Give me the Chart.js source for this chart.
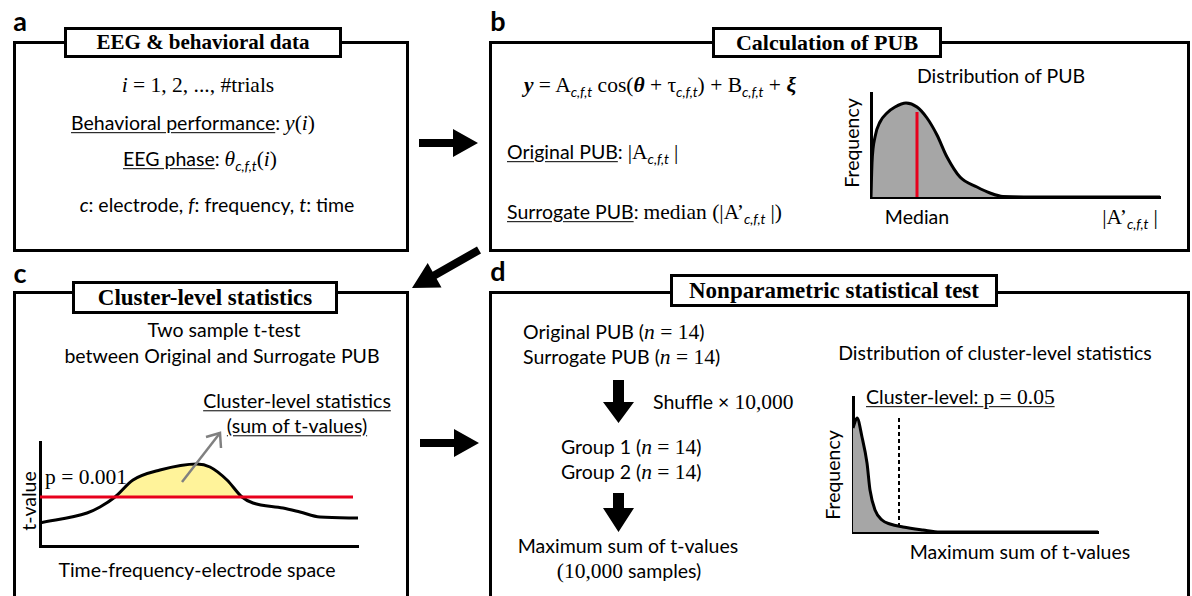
<!DOCTYPE html>
<html>
<head>
  <script src="https://cdn.jsdelivr.net/npm/chart.js"></script>
  <title>PUB analysis pipeline</title>
  <style>
    body { margin:0; background:#fff; }
    #page { position:relative; width:1192px; height:596px; overflow:hidden; font-family:Lato, sans-serif; font-size:19.5px; color:#000; }
    .box { position:absolute; border:3px solid #000; box-sizing:border-box; }
    .ttl { position:absolute; border:3px solid #000; box-sizing:border-box; background:#fff; font-family:'Liberation Serif', serif; font-weight:bold; font-size:22px; display:flex; align-items:center; justify-content:center; }
    .t { position:absolute; white-space:nowrap; line-height:1.1; }
    .c { transform:translate(-50%,-50%); }
    .l { transform:translate(0,-50%); }
    .r { transform:translate(-50%,-50%) rotate(-90deg); }
    .s { font-family:'Liberation Serif', serif; font-size:21.5px; }
    .u { text-decoration:underline; text-underline-offset:2px; }
    sub { font-family:Lato, sans-serif; font-size:14px; font-style:italic; vertical-align:-5px; line-height:0; }
    .lab { position:absolute; font-weight:bold; font-size:27px; line-height:1; transform:translate(-50%,-50%); }
    .cw { position:absolute; }
    svg { position:absolute; left:0; top:0; }
  </style>
</head>
<body>
<div id="page">
  <!-- panel a -->
  <div class="lab" style="left:20px;top:20px">a</div>
  <div class="box" style="left:13px;top:41px;width:396px;height:211px"></div>
  <div class="ttl" style="left:64px;top:27px;width:278px;height:31px;font-size:21px">EEG &amp; behavioral data</div>
  <div class="t c s" style="left:198px;top:86px"><i>i</i> = 1, 2, ..., #trials</div>
  <div class="t c" style="left:193px;top:124px"><span class="u">Behavioral performance</span>: <span class="s"><i>y</i>(<i>i</i>)</span></div>
  <div class="t c" style="left:200px;top:160px"><span class="u">EEG phase</span>: <span class="s"><i>θ</i></span><sub>c,f,t</sub><span class="s">(<i>i</i>)</span></div>
  <div class="t c" style="left:217px;top:205px"><i>c</i>: electrode, <i>f</i>: frequency, <i>t</i>: time</div>

  <!-- panel b -->
  <div class="lab" style="left:498px;top:20px">b</div>
  <div class="box" style="left:489px;top:41px;width:701px;height:211px"></div>
  <div class="ttl" style="left:712px;top:27px;width:230px;height:31px">Calculation of PUB</div>
  <div class="t c s" style="left:660px;top:86px"><b><i>y</i></b> = A<sub>c,f,t</sub> cos(<b><i>θ</i></b> + τ<sub>c,f,t</sub>) + B<sub>c,f,t</sub> + <b><i>ξ</i></b></div>
  <div class="t l" style="left:507px;top:153px"><span class="u">Original PUB</span>: <span class="s">|A</span><sub>c,f,t</sub> <span class="s">|</span></div>
  <div class="t l" style="left:507px;top:213px"><span class="u">Surrogate PUB</span>: <span class="s">median (|A’</span><sub>c,f,t</sub> <span class="s">|)</span></div>
  <div class="t c" style="left:1001px;top:76px">Distribution of PUB</div>
  <div class="t r" style="left:852px;top:143px">Frequency</div>
  <div class="t c" style="left:917px;top:217px">Median</div>
  <div class="t c" style="left:1130px;top:218px"><span class="s">|A’</span><sub>c,f,t</sub> <span class="s">|</span></div>

  <!-- panel c -->
  <div class="lab" style="left:20px;top:272px">c</div>
  <div class="box" style="left:13px;top:291px;width:396px;height:320px"></div>
  <div class="ttl" style="left:72px;top:281px;width:266px;height:33px;font-size:23px">Cluster-level statistics</div>
  <div class="t c" style="left:224px;top:330px">Two sample t-test</div>
  <div class="t c" style="left:222px;top:356px">between Original and Surrogate PUB</div>
  <div class="t c u" style="left:297px;top:401px">Cluster-level statistics</div>
  <div class="t c u" style="left:297px;top:426px">(sum of t-values)</div>
  <div class="t l s" style="left:45px;top:478px">p = 0.001</div>
  <div class="t r" style="left:29px;top:501px">t-value</div>
  <div class="t c" style="left:197px;top:570px">Time-frequency-electrode space</div>

  <!-- panel d -->
  <div class="lab" style="left:498px;top:270px">d</div>
  <div class="box" style="left:489px;top:291px;width:701px;height:320px"></div>
  <div class="ttl" style="left:670px;top:274px;width:328px;height:33px;font-size:23px">Nonparametric statistical test</div>
  <div class="t l" style="left:523px;top:333px">Original PUB (<span class="s"><i>n</i> = 14</span>)</div>
  <div class="t l" style="left:523px;top:358px">Surrogate PUB (<span class="s"><i>n</i> = 14</span>)</div>
  <div class="t l" style="left:653px;top:403px">Shuffle × <span class="s">10,000</span></div>
  <div class="t l" style="left:561px;top:448px">Group 1 (<span class="s"><i>n</i> = 14</span>)</div>
  <div class="t l" style="left:561px;top:473px">Group 2 (<span class="s"><i>n</i> = 14</span>)</div>
  <div class="t c" style="left:628px;top:546px">Maximum sum of t-values</div>
  <div class="t c" style="left:629px;top:572px"><span class="s">(10,000</span> samples)</div>
  <div class="t c" style="left:995px;top:353px">Distribution of cluster-level statistics</div>
  <div class="t l u" style="left:866px;top:398px">Cluster-level: <span class="s">p = 0.05</span></div>
  <div class="t r" style="left:833px;top:475px">Frequency</div>
  <div class="t c" style="left:1020px;top:552px">Maximum sum of t-values</div>

  <svg width="1192" height="596">
    <polygon points="419,139 453,139 453,129 478,143 453,157 453,147 419,147" fill="#000"/>
    <polygon points="481,253.5 436.6,278.7 441.5,287.4 412,288 427.7,263 432.6,271.7 477,246.5" fill="#000"/>
    <polygon points="420,439 454,439 454,429 479,443 454,457 454,447 420,447" fill="#000"/>
    <polygon points="613,380 624,380 624,402 634,402 618.5,423 603,402 613,402" fill="#000"/>
    <polygon points="613,493 624,493 624,508 634,508 618.5,532 603,508 613,508" fill="#000"/>
  </svg>
</div>

<script>
  // b: distribution of PUB (x = |A'|, y = frequency)
  const pubX = [0, 1, 4, 9, 16, 24, 35, 46, 56, 66, 76, 89, 106, 119, 132, 182, 289];
  const pubY = [0, 34, 60, 75, 84, 90, 94, 90, 79, 62, 40, 20, 10, 4, 0.5, 0, 0];
  const medianX = [46, 46];
  const medianY = [0, 85];

  // c: t-value across time-frequency-electrode space
  const tX = [0, 47, 60, 75, 93, 120, 157, 170, 187, 202, 213, 243, 260, 280, 318];
  const tY = [23, 33, 39, 49, 66, 76, 82, 79, 66, 49, 43, 38, 34, 29, 28];
  const threshX = [0, 313];
  const threshY = [49, 49];

  // d: distribution of maximum cluster sums
  const clusterX = [0, 4, 9, 14, 17, 22, 29, 37, 50, 70, 87, 245];
  const clusterY = [104, 114, 95, 69, 42, 22, 12, 8, 5, 2, 0, 0];
  const critX = [46, 46];
  const critY = [5, 114];

  const pts = (xs, ys) => xs.map((x, i) => ({ x: x, y: ys[i] }));
  const PAD = 4;

  // area = where the plot area should land on the page
  function sketch(area, xMax, yMax, datasets) {
    const w = area.right - area.left + 2 * PAD;
    const h = area.bottom - area.top + 2 * PAD;
    const wrap = document.createElement('div');
    wrap.className = 'cw';
    wrap.style.left = (area.left - PAD) + 'px';
    wrap.style.top = (area.top - PAD) + 'px';
    const cv = document.createElement('canvas');
    cv.width = w; cv.height = h;
    cv.style.width = w + 'px'; cv.style.height = h + 'px';
    wrap.appendChild(cv);
    document.getElementById('page').insertBefore(wrap, document.querySelector('svg'));
    const axis = (max) => ({
      type: 'linear', min: 0, max: max,
      grid: { display: false, drawTicks: false },
      ticks: { display: false },
      border: { display: true, color: '#000', width: 3 }
    });
    return new Chart(cv.getContext('2d'), {
      type: 'scatter',
      data: { datasets: datasets },
      options: {
        responsive: false,
        animation: false,
        devicePixelRatio: 1,
        layout: { padding: PAD, autoPadding: false },
        plugins: { legend: { display: false }, tooltip: { enabled: false } },
        elements: { point: { radius: 0 } },
        scales: { x: axis(xMax), y: axis(yMax) }
      }
    });
  }

  sketch({ left: 871, top: 93, right: 1160, bottom: 197 }, 289, 104, [
    { data: pts(medianX, medianY), showLine: true, borderColor: '#e8001c', borderWidth: 3, order: 0 },
    { data: pts(pubX, pubY), showLine: true, borderColor: '#000', borderWidth: 3,
      backgroundColor: '#a6a6a6', fill: 'origin', cubicInterpolationMode: 'monotone', order: 1 }
  ]);

  sketch({ left: 40, top: 442, right: 358, bottom: 546 }, 318, 104, [
    { data: pts(threshX, threshY), showLine: true, borderColor: '#e8001c', borderWidth: 3, order: 0 },
    { data: pts(tX, tY), showLine: true, borderColor: '#000', borderWidth: 3,
      fill: { target: { value: 49 }, above: '#fff39a', below: 'rgba(0,0,0,0)' },
      cubicInterpolationMode: 'monotone', order: 1 }
  ]);

  sketch({ left: 853, top: 397, right: 1098, bottom: 532 }, 245, 135, [
    { data: pts(critX, critY), showLine: true, borderColor: '#000', borderWidth: 2, borderDash: [4, 3], order: 1 },
    { data: pts(clusterX, clusterY), showLine: true, borderColor: '#000', borderWidth: 3,
      backgroundColor: '#a6a6a6', fill: 'origin', cubicInterpolationMode: 'monotone', order: 0 }
  ]);
</script>
<svg width="1192" height="596" style="position:absolute;left:0;top:0;pointer-events:none">
  <line x1="182" y1="482" x2="220" y2="433" stroke="#808080" stroke-width="2.5"/>
  <polyline points="206,437 220,433 221,448" fill="none" stroke="#808080" stroke-width="2.5"/>
</svg>
</body>
</html>
